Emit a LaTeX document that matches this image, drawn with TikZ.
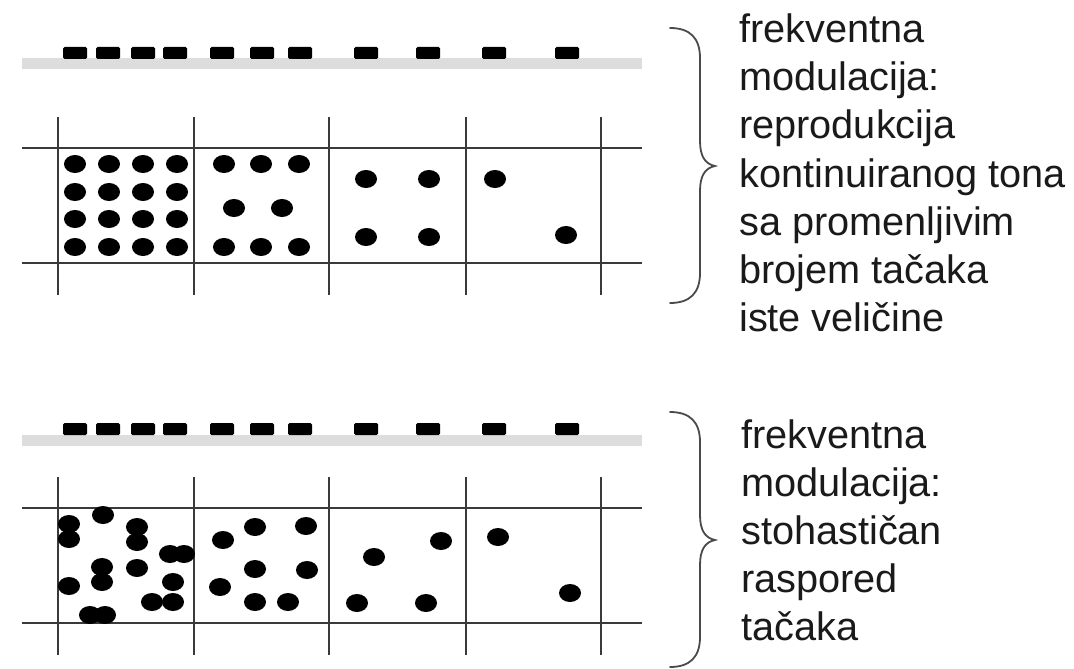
\documentclass[tikz,border=0pt]{standalone}
\usepackage{fontspec}
\setmainfont{Liberation Sans}
\definecolor{barg}{HTML}{DDDDDD}
\definecolor{gridc}{HTML}{3A3A3A}
\definecolor{bracec}{HTML}{4A4A4A}
\definecolor{txtc}{HTML}{1A1A1A}
\tikzset{
  dashbox/.style={fill=black, rounded corners=1.5pt},
  gridline/.style={draw=gridc, line width=1.9pt},
  bracestyle/.style={draw=bracec, line width=1.8pt, line cap=round},
  label/.style={anchor=base west, inner sep=0pt, text=txtc, font=\fontsize{39.7}{48}\selectfont},
  dotfill/.style={fill=black}
}
\begin{document}
\begin{tikzpicture}[x=1pt, y=-1pt]
\useasboundingbox (0,0) rectangle (1074,669);
\fill[white] (0,0) rectangle (1074,669);

% ---------- the two strips ----------
\foreach \off/\goff in {0/0, 376/360} {
  % gray bar
  \fill[barg] (22,58.5+\off) rectangle (642,69.5+\off);
  % dashes
  \foreach \xa in {63,96,131,163,210,250,288,354,416,482,555} {
    \fill[dashbox] (\xa,47+\off) rectangle ++(24,12);
  }
  % horizontal grid lines
  \draw[gridline] (22,148+\goff) -- (642,148+\goff);
  \draw[gridline] (22,263+\goff) -- (642,263+\goff);
  % vertical grid lines
  \draw[gridline, line width=2.3pt] (58,117+\goff) -- (58,295+\goff);
  \foreach \xv in {194,329,466,601} {
    \draw[gridline] (\xv,117+\goff) -- (\xv,295+\goff);
  }
}

% ---------- top dots (regular) ----------
\foreach \xd in {75,109,143,177} {
  \foreach \yd in {164,192,219,247} {
    \fill[dotfill] (\xd,\yd) ellipse [x radius=11pt, y radius=9pt];
  }
}
\foreach \xd/\yd in {224/164,261/164,299/164,234/208,282/208,224/247,261/247,299/247,
                     366/179,429/179,366/237,429/237,495/179,566/235} {
  \fill[dotfill] (\xd,\yd) ellipse [x radius=11pt, y radius=9pt];
}

% ---------- bottom dots (stochastic) ----------
\foreach \xd/\yd in {69/524,69/539,103/515,137/527,137/542,170/554,184/554,102/567,102/582,
                     137/568,69/586,173/582,152/602,173/602,90/615,105/615,
                     223/540,255/527,306/526,255/569,307/570,220/587,255/602,288/602,
                     374/557,441/541,357/603,426/603,498/537,570/593} {
  \fill[dotfill] (\xd,\yd) ellipse [x radius=11pt, y radius=9pt];
}

% ---------- braces ----------
\draw[bracestyle] (670,28) .. controls (690,28) and (700,38) .. (700,58)
  -- (700,141) .. controls (700,156) and (705,164) .. (715,166)
  .. controls (705,168) and (700,176) .. (700,191)
  -- (700,273) .. controls (700,293) and (690,303) .. (670,303);
\draw[bracestyle] (670,412) .. controls (690,412) and (700,422) .. (700,442)
  -- (700,515) .. controls (700,530) and (705,538) .. (715,540)
  .. controls (705,542) and (700,550) .. (700,565)
  -- (700,637) .. controls (700,657) and (690,667) .. (670,667);

% ---------- texts ----------
\node[label] (t1) at (739,43) {frekventna};
\node[label] (t2) at (739,91) {modulacija:};
\node[label] (t3) at (739,139) {reprodukcija};
\node[label] (t4) at (739,187) {kontinuiranog tona};
\node[label] (t5) at (739,235) {sa promenljivim};
\node[label] (t6) at (739,283) {brojem tačaka};
\node[label] (t7) at (739,331) {iste veličine};

\node[label] (b1) at (741,448) {frekventna};
\node[label] (b2) at (741,496) {modulacija:};
\node[label] (b3) at (741,544) {stohastičan};
\node[label] (b4) at (741,592) {raspored};
\node[label] (b5) at (741,640) {tačaka};
\end{tikzpicture}
\end{document}
